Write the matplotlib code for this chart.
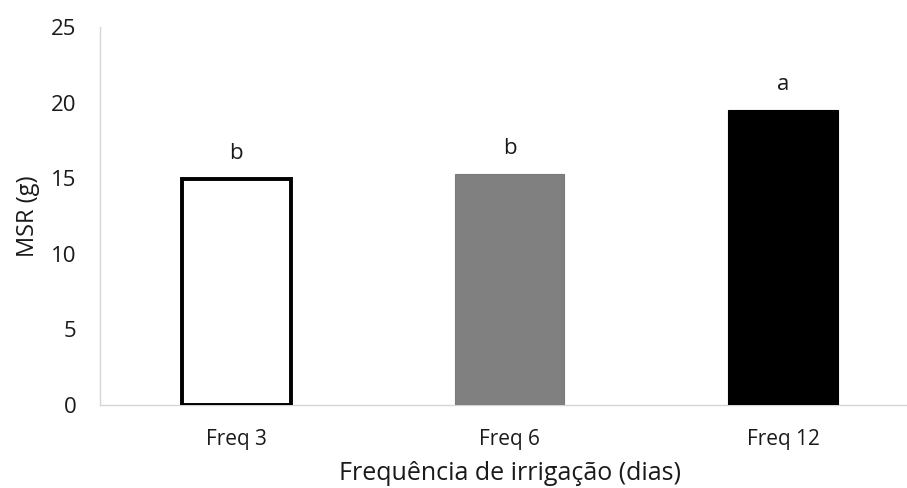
import matplotlib
matplotlib.use("Agg")
import matplotlib.pyplot as plt

categories = ["Freq 3", "Freq 6", "Freq 12"]
msr_values = [14.95, 15.25, 19.5]
letters = ["b", "b", "a"]
y_ticks = [0, 5, 10, 15, 20, 25]

plt.rcParams['font.family'] = ['Open Sans', 'DejaVu Sans']

fig = plt.figure(figsize=(9.07, 4.88), dpi=100)
ax = fig.add_axes([0.110, 0.170, 0.904, 0.7747])

x = range(len(categories))
face_colors = ["white", "#808080", "black"]
edge_colors = ["black", "#7a7a7a", "black"]
line_widths = [2.8, 0.8, 0.8]
ax.bar(x, msr_values, width=0.4, color=face_colors,
       edgecolor=edge_colors, linewidth=line_widths, zorder=3)

for xi, v, lab in zip(x, msr_values, letters):
    ax.annotate(lab, (xi, v), xytext=(0, 18.5), textcoords="offset points",
                ha="center", va="center", fontsize=16, color="#1a1a1a")

ax.set_xlim(-0.5, 2.5)
ax.set_ylim(0, 25)
ax.set_yticks(y_ticks)
ax.set_xticks(list(x))
ax.set_xticklabels(categories)
ax.tick_params(axis="y", length=0, pad=17, labelsize=16, colors="#1a1a1a")
ax.tick_params(axis="x", length=0, pad=17, labelsize=15, colors="#1a1a1a")

for side in ["top", "right"]:
    ax.spines[side].set_visible(False)
for side in ["left", "bottom"]:
    ax.spines[side].set_color("#d6d6d6")
    ax.spines[side].set_linewidth(1.0)

ax.set_ylabel("MSR (g)", fontsize=17, color="#1a1a1a", labelpad=8)
ax.set_xlabel("Frequência de irrigação (dias)", fontsize=18, color="#1a1a1a", labelpad=8)

fig.savefig("out.png", dpi=100, facecolor="white")
